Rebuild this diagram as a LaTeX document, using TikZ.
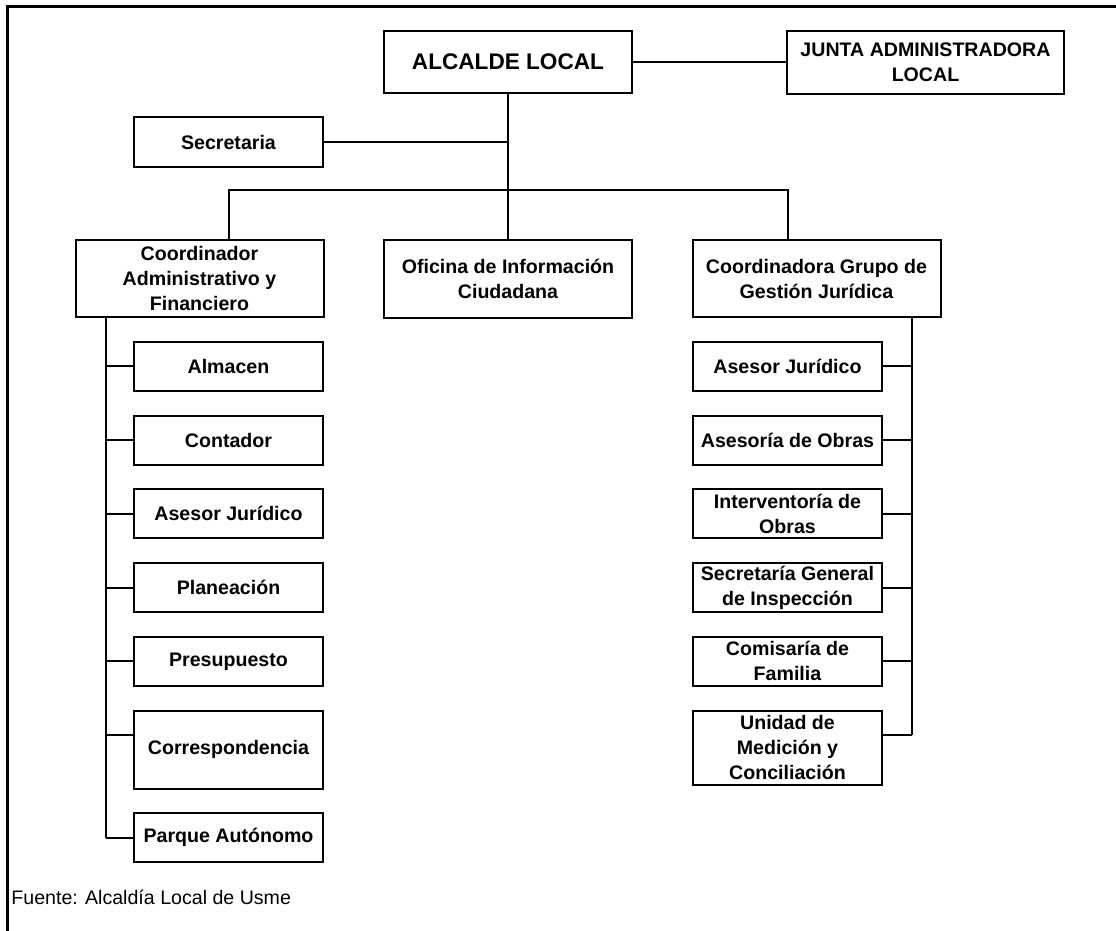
\documentclass[tikz,border=0pt]{standalone}
\usepackage{fontspec}
\setmainfont{Liberation Sans}
\usetikzlibrary{positioning}

\begin{document}
\begin{tikzpicture}[x=0.5pt, y=-0.5pt, node distance=12.35pt,
    caja/.style={draw, line width=1pt, align=center, inner sep=0pt, outer sep=0pt,
        font=\bfseries\fontsize{9.8}{12.5}\selectfont},
    sub/.style={caja, minimum width=94.5pt, minimum height=24.5pt},
    jefe/.style={caja, minimum width=124pt, minimum height=38.5pt},
    linea/.style={line width=1pt}]
    \useasboundingbox (0,0) rectangle (1116,931);

    % Marco
    \draw [line width=1.5pt] (1120,7) -- (7,7) -- (7,935);

    % Nivel superior
    \node [caja, minimum width=124pt, minimum height=31pt,
        font=\bfseries\fontsize{11.3}{13}\selectfont] (alcalde) at (508,62) {ALCALDE LOCAL};
    \node [caja, minimum width=138.5pt, minimum height=31.5pt] (junta) at (925.5,62.5) {JUNTA ADMINISTRADORA\\LOCAL};
    \node [sub, minimum height=25pt] (secre) at (228.5,142) {Secretaria};

    % Segundo nivel
    \node [jefe] (coordAF) at (199.5,278.5) {Coordinador\\Administrativo y\\Financiero};
    \node [jefe, minimum height=39pt] (oficina) at (508,279) {Oficina de Información\\Ciudadana};
    \node [jefe] (coordGJ) at (816.5,278.5) {Coordinadora Grupo de\\Gestión Jurídica};

    % Dependencias administrativas
    \node [sub] (alm) at (228.5,366.5) {Almacen};
    \node [sub, below=of alm] (cont) {Contador};
    \node [sub, below=of cont] (asesL) {Asesor Jurídico};
    \node [sub, below=of asesL] (plan) {Planeación};
    \node [sub, below=of plan] (presu) {Presupuesto};
    \node [sub, below=of presu, minimum height=39pt] (corr) {Correspondencia};
    \node [sub, below=of corr] (parque) {Parque Autónomo};

    % Dependencias juridicas
    \node [sub] (asesR) at (787.5,366.5) {Asesor Jurídico};
    \node [sub, below=of asesR] (obras) {Asesoría de Obras};
    \node [sub, below=of obras] (inter) {Interventoría de\\Obras};
    \node [sub, below=of inter] (secgen) {Secretaría General\\de Inspección};
    \node [sub, below=of secgen] (comis) {Comisaría de\\Familia};
    \node [sub, below=of comis, minimum height=37pt] (unid) {Unidad de\\Medición y\\Conciliación};

    \node [anchor=west, inner sep=0pt, font=\fontsize{9.8}{12}\selectfont] (fuente) at (11,897) {Fuente: Alcaldía Local de Usme};

    % Lineas de mando
    \coordinate (bus) at (508,190);
    \draw [linea] (alcalde.east) -- (alcalde.east -| junta.west);
    \draw [linea] (alcalde.south) -- (oficina.north);
    \draw [linea] (secre.east) -- (secre.east -| alcalde.south);
    \draw [linea] (secre.south |- coordAF.north) |- (bus) -| (asesR.north |- coordGJ.north);

    % Columna izquierda
    \coordinate (lspine) at ([xshift=15pt]coordAF.south west);
    \coordinate (corrin) at ([yshift=7.5pt]corr.west);
    \draw [linea] (lspine) -- (lspine |- parque.west);
    \foreach \n in {alm, cont, asesL, plan, presu, parque}
    {
    \draw [linea] (\n.west) -- (\n.west -| lspine);
    }
    \draw [linea] (corrin) -- (corrin -| lspine);

    % Columna derecha
    \coordinate (rspine) at ([xshift=-14.5pt]coordGJ.south east);
    \coordinate (unidin) at ([yshift=6.5pt]unid.east);
    \draw [linea] (rspine) -- (rspine |- unidin);
    \foreach \n in {asesR, obras, inter, secgen, comis}
    {
    \draw [linea] (\n.east) -- (\n.east -| rspine);
    }
    \draw [linea] (unidin) -- (unidin -| rspine);
\end{tikzpicture}
\end{document}
